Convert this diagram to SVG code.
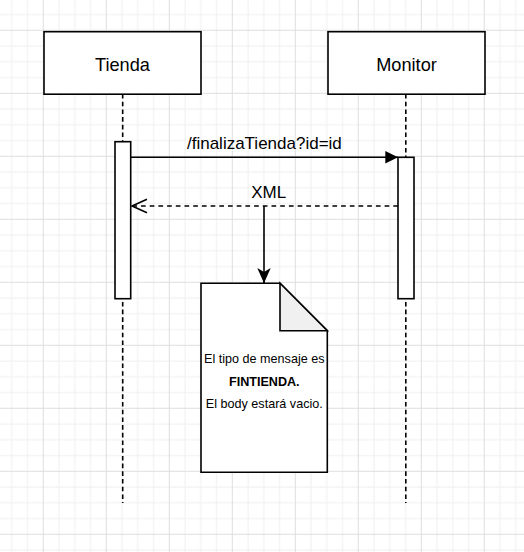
<svg xmlns="http://www.w3.org/2000/svg" width="524" height="552" viewBox="0 0 524 552">
  <style>
    .box { fill: #ffffff; stroke: #000000; stroke-width: 1.6; }
    .title { font-family: "Liberation Sans", Arial, sans-serif; font-size: 18.2px; fill: #000000; text-anchor: middle; }
    .lbl { font-family: "Liberation Sans", Arial, sans-serif; font-size: 17px; fill: #000000; text-anchor: middle; }
    .note { font-family: "Liberation Sans", Arial, sans-serif; font-size: 12.6px; fill: #000000; text-anchor: middle; }
    .life { stroke: #000000; stroke-width: 1.6; stroke-dasharray: 4.6 3.1; fill: none; }
    .line { stroke: #000000; stroke-width: 1.6; fill: none; }
    .dash { stroke: #000000; stroke-width: 1.6; fill: none; stroke-dasharray: 4.7 4; }
  </style>
  <defs>
    <pattern id="grid" patternUnits="userSpaceOnUse" x="42.8" y="29.8" width="63" height="63">
      <rect x="15.75" y="0" width="1" height="63" fill="#efefef"/>
      <rect x="31.5" y="0" width="1" height="63" fill="#efefef"/>
      <rect x="47.25" y="0" width="1" height="63" fill="#efefef"/>
      <rect x="0" y="15.75" width="63" height="1" fill="#efefef"/>
      <rect x="0" y="31.5" width="63" height="1" fill="#efefef"/>
      <rect x="0" y="47.25" width="63" height="1" fill="#efefef"/>
      <rect x="0" y="0" width="1" height="63" fill="#dedede"/>
      <rect x="0" y="0" width="63" height="1" fill="#dedede"/>
    </pattern>
    <marker id="block" markerUnits="userSpaceOnUse" markerWidth="14" markerHeight="14" refX="12.7" refY="6.3" orient="auto">
      <path d="M0,0 L12.7,6.3 L0,12.6 Z" fill="#000000" stroke="none"/>
    </marker>
    <marker id="classic" markerUnits="userSpaceOnUse" markerWidth="16" markerHeight="14" refX="15.3" refY="6.7" orient="auto">
      <path d="M0,0 L15.3,6.7 L0,13.4 L4,6.7 Z" fill="#000000" stroke="none"/>
    </marker>
    <marker id="open" markerUnits="userSpaceOnUse" markerWidth="18" markerHeight="16" refX="16" refY="7.7" orient="auto">
      <path d="M1,1 L16,7.7 L1,14.4" fill="none" stroke="#000000" stroke-width="1.6" stroke-dasharray="none"/>
    </marker>
  </defs>
  <rect x="0" y="0" width="524" height="552" fill="#ffffff"/>
  <rect x="0" y="0" width="524" height="552" fill="url(#grid)"/>

  <g id="tienda">
    <path class="life" d="M122.7,94 L122.7,503"/>
    <rect class="box" x="44" y="31.7" width="157" height="62.5"/>
    <text class="title" x="122.5" y="71">Tienda</text>
    <rect class="box" x="115" y="141.7" width="15.7" height="157"/>
  </g>

  <g id="monitor">
    <path class="life" d="M405.8,94 L405.8,503"/>
    <rect class="box" x="328" y="31.7" width="157" height="62.5"/>
    <text class="title" x="406.5" y="71">Monitor</text>
    <rect class="box" x="398" y="157.3" width="16" height="141.4"/>
  </g>

  <g id="nota">
    <path class="box" d="M201,283.3 L280,283.3 L327.3,330.7 L327.3,472.3 L201,472.3 Z"/>
    <path d="M280,283.3 L280,330.7 L327.3,330.7 Z" fill="#f0f0f0" stroke="#000000" stroke-width="1.6" stroke-linejoin="miter"/>
    <text class="note" x="264.3" y="363.3">El tipo de mensaje es</text>
    <text class="note" x="264.3" y="386.3" font-weight="bold">FINTIENDA.</text>
    <text class="note" x="264.3" y="408.3">El body estará vacio.</text>
  </g>

  <g id="connectors">
    <path class="line" d="M130.7,157.3 L398,157.3" marker-end="url(#block)"/>
    <text class="lbl" x="264.4" y="149">/finalizaTienda?id=id</text>
    <path class="dash" d="M398,206 L132,206" marker-end="url(#open)"/>
    <text class="lbl" x="268.7" y="198.3">XML</text>
    <path class="line" d="M264,206 L264,283.3" marker-end="url(#classic)"/>
  </g>
</svg>
